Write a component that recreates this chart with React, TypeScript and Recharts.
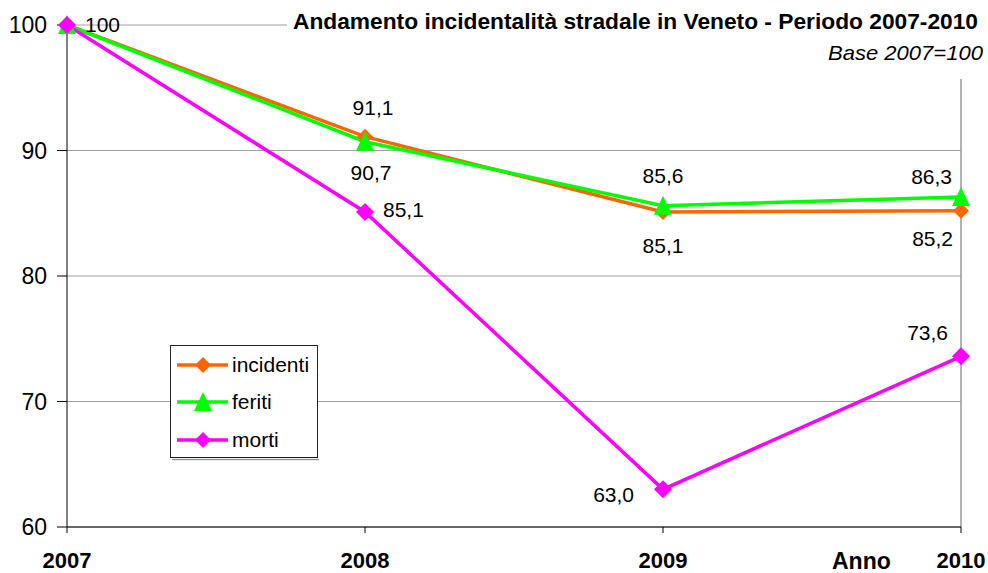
import React from 'react'
import { LineChart, Line, XAxis, YAxis, CartesianGrid, ReferenceLine, LabelList } from 'recharts'

const years = ['2007', '2008', '2009', '2010']
const incidenti = [100, 91.1, 85.1, 85.2]
const feriti = [100, 90.7, 85.6, 86.3]
const morti = [100, 85.1, 63.0, 73.6]
const yTicks = [60, 70, 80, 90, 100]

const data = years.map((anno, i) => ({
  anno,
  incidenti: incidenti[i],
  feriti: feriti[i],
  morti: morti[i],
}))

const ORANGE = '#FF6600'
const GREEN = '#00FF00'
const MAGENTA = '#FF00FF'
const FONT = "'Liberation Sans', Arial, sans-serif"

// label offsets from each point: [dx, dy (to baseline), anchor]
type Place = [number, number, 'start' | 'middle' | 'end'] | null
const placeIncidenti: Place[] = [[18, 7, 'start'], [8, -22, 'middle'], [0, 41, 'middle'], [-8, 35, 'end']]
const placeFeriti: Place[] = [null, [6, 38, 'middle'], [0, -23, 'middle'], [-9, -13, 'end']]
const placeMorti: Place[] = [null, [18, 5, 'start'], [-29, 13, 'end'], [-13, -16, 'end']]

const fmt = (v: number) => (v === 100 ? '100' : v.toFixed(1).replace('.', ','))

const makeLabel = (places: Place[]) => (props: any) => {
  const p = places[props.index]
  if (!p) return null
  return (
    <text x={props.x + p[0]} y={props.y + p[1]} textAnchor={p[2]} fontFamily={FONT} fontSize={21} fill="#000">
      {fmt(Number(props.value))}
    </text>
  )
}

function Diamond({ cx, cy, r, color }: { cx: number; cy: number; r: number; color: string }) {
  return <polygon points={`${cx},${cy - r} ${cx + r},${cy} ${cx},${cy + r} ${cx - r},${cy}`} fill={color} />
}

function Triangle({ cx, cy, color }: { cx: number; cy: number; color: string }) {
  return <polygon points={`${cx},${cy - 10} ${cx + 9},${cy + 9} ${cx - 9},${cy + 9}`} fill={color} />
}

const legendRows = [
  { name: 'incidenti', color: ORANGE, y: 365 },
  { name: 'feriti', color: GREEN, y: 402 },
  { name: 'morti', color: MAGENTA, y: 440 },
]

export default function App() {
  return (
    <div style={{ position: 'relative', width: 988, height: 573, background: '#fff' }}>
      <style>{`body{margin:0}`}</style>
      <LineChart width={988} height={573} data={data} margin={{ top: 25, right: 27, bottom: 0, left: 0 }}>
        <CartesianGrid horizontal vertical={false} stroke="#a0a0a0" />
        <ReferenceLine x="2010" stroke="#999" strokeWidth={1.5} />
        <XAxis
          dataKey="anno"
          height={46}
          axisLine={{ stroke: '#000' }}
          tickLine={{ stroke: '#000' }}
          tickSize={6}
          tickMargin={19}
          tick={{ fontFamily: FONT, fontSize: 22, fontWeight: 700, fill: '#000' }}
        />
        <YAxis
          domain={[60, 100]}
          ticks={yTicks}
          width={67}
          axisLine={{ stroke: '#000' }}
          tickLine={{ stroke: '#000' }}
          tickSize={10}
          tickMargin={10}
          tick={{ fontFamily: FONT, fontSize: 23, fill: '#000' }}
        />
        <Line
          dataKey="incidenti"
          type="linear"
          stroke={ORANGE}
          strokeWidth={3.5}
          isAnimationActive={false}
          activeDot={false}
          dot={(p: any) => <Diamond key={`i${p.index}`} cx={p.cx} cy={p.cy} r={8} color={ORANGE} />}
        >
          <LabelList dataKey="incidenti" content={makeLabel(placeIncidenti)} />
        </Line>
        <Line
          dataKey="feriti"
          type="linear"
          stroke={GREEN}
          strokeWidth={3.5}
          isAnimationActive={false}
          activeDot={false}
          dot={(p: any) => <Triangle key={`f${p.index}`} cx={p.cx} cy={p.cy} color={GREEN} />}
        >
          <LabelList dataKey="feriti" content={makeLabel(placeFeriti)} />
        </Line>
        <Line
          dataKey="morti"
          type="linear"
          stroke={MAGENTA}
          strokeWidth={3.5}
          isAnimationActive={false}
          activeDot={false}
          dot={(p: any) => <Diamond key={`m${p.index}`} cx={p.cx} cy={p.cy} r={9} color={MAGENTA} />}
        >
          <LabelList dataKey="morti" content={makeLabel(placeMorti)} />
        </Line>
      </LineChart>

      <svg width={988} height={573} style={{ position: 'absolute', left: 0, top: 0, pointerEvents: 'none' }}>
        <rect x={287} y={0} width={701} height={79} fill="#fff" />
        <text x={293} y={28.5} fontFamily={FONT} fontSize={22} fontWeight={700} fill="#000" textLength={685} lengthAdjust="spacingAndGlyphs">
          Andamento incidentalità stradale in Veneto - Periodo 2007-2010
        </text>
        <text x={828} y={59.5} fontFamily={FONT} fontSize={21} fontStyle="italic" fill="#000" textLength={155} lengthAdjust="spacingAndGlyphs">
          Base 2007=100
        </text>
        <text x={832} y={568.5} fontFamily={FONT} fontSize={23} fontWeight={700} fill="#000">
          Anno
        </text>

        <line x1={172} x2={319} y1={459.5} y2={459.5} stroke="#999" strokeWidth={1.5} />
        <rect x={170.5} y={345.5} width={147} height={112} fill="#fff" stroke="#222" strokeWidth={1} />
        {legendRows.map((r, i) => (
          <g key={r.name}>
            <line x1={177} x2={228} y1={r.y} y2={r.y} stroke={r.color} strokeWidth={3.5} />
            {i === 1 ? (
              <Triangle cx={203} cy={r.y} color={r.color} />
            ) : (
              <Diamond cx={203} cy={r.y} r={8} color={r.color} />
            )}
            <text x={232} y={r.y + 7} fontFamily={FONT} fontSize={21} fill="#000">
              {r.name}
            </text>
          </g>
        ))}
      </svg>
    </div>
  )
}
